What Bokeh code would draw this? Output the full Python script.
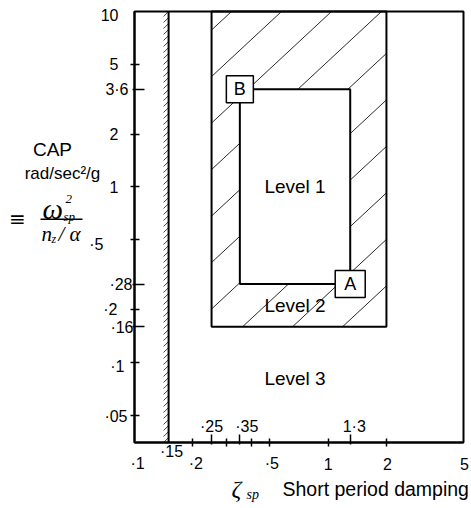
import math

from bokeh.plotting import figure
from bokeh.models import Range1d, FixedTicker, Label, CustomJSTickFormatter, BoxAnnotation
from bokeh.core.properties import value
from bokeh.embed import file_html
from bokeh.resources import INLINE

# Short-period flying-qualities boundaries (CAP vs damping ratio)
zeta_level3_min = 0.15
level1_zeta = [0.35, 1.3]
level1_cap = [0.28, 3.6]
level2_zeta = [0.25, 2.0]
level2_cap = [0.16, 10.0]

x_limits = [0.1, 5.0]
y_limits = [0.035, 10.0]

# tick positions (long ticks mark the boundary values)
x_ticks_long = [0.25, 0.35, 1.3]
x_ticks_short = [0.2, 0.3, 0.4, 0.5, 1.0, 2.0]
y_ticks_long = [3.6, 0.28, 0.16]
y_ticks_short = [5.0, 2.0, 1.0, 0.5, 0.2, 0.1, 0.05]

x_labels_below = {0.1: "·1", 0.15: "·15", 0.2: "·2", 0.5: "·5", 1.0: "1", 2.0: "2", 5.0: "5"}
x_labels_above = {0.25: "·25", 0.35: "·35", 1.3: "1·3"}
y_labels = {10.0: "10", 5.0: "5", 3.6: "3·6", 2.0: "2", 1.0: "1", 0.5: "·5",
            0.28: "·28", 0.2: "·2", 0.16: "·16", 0.1: "·1", 0.05: "·05"}

region_names = ["Level 1", "Level 2", "Level 3"]
corner_names = ["B", "A"]

# ---- layout / style ----
W, H = 471, 508
BOX_L, BOX_R, BOX_T, BOX_B = 134, 463, 11, 442   # chart box in pixels
SANS = "Liberation Sans"
SERIF = "Liberation Serif"
TICK_PX = 16
HATCH_STEP = 50      # px between hatch lines (horizontal)
HATCH_PHASE = 231    # px where one hatch line meets the top edge
HATCH_RISE = 0.93    # rise over run of the hatch lines on screen
TICKMARK_STEP = 6    # px between the small marks on the damping limit
TICKMARK_LEN = 5

# the plotting frame fills the whole page; the chart box sits inside it
px_dec_x = (BOX_R - BOX_L) / math.log10(x_limits[1] / x_limits[0])
px_dec_y = (BOX_B - BOX_T) / math.log10(y_limits[1] / y_limits[0])
x_view = (x_limits[0] * 10 ** (-BOX_L / px_dec_x), x_limits[1] * 10 ** ((W - BOX_R) / px_dec_x))
y_view = (y_limits[0] * 10 ** (-(H - BOX_B) / px_dec_y), y_limits[1] * 10 ** (BOX_T / px_dec_y))

# label nudges in pixels
y_label_gap = {10.0: 16, 5.0: 16, 3.6: 6, 2.0: 16, 1.0: 16, 0.5: 31,
               0.28: 2, 0.2: 17, 0.16: 1, 0.1: 10, 0.05: 7}
y_label_dy = {10.0: 3, 0.5: 5, 0.16: 1, 0.1: 4, 0.05: 1}
x_below_dx = {0.1: 3, 0.15: 3, 0.2: 3, 0.5: 2, 1.0: 0, 2.0: 1, 5.0: 1}
x_below_dy = {0.15: 12}
x_above_dx = {0.25: 0, 0.35: 7, 1.3: 4}

p = figure(width=W, height=H, x_axis_type="log", y_axis_type="log",
           x_range=Range1d(*x_view), y_range=Range1d(*y_view),
           output_backend="svg", toolbar_location=None,
           min_border_left=0, min_border_right=0, min_border_top=0, min_border_bottom=0)
p.title.visible = False
p.background_fill_color = "white"
p.border_fill_color = "white"
p.outline_line_color = None
p.grid.visible = False

blank = CustomJSTickFormatter(code='return ""')

xa = p.xaxis[0]
xa.ticker = FixedTicker(ticks=x_ticks_long, minor_ticks=x_ticks_short)
xa.fixed_location = y_limits[0]
xa.bounds = tuple(x_limits)
xa.major_tick_in, xa.major_tick_out = 8, 2
xa.minor_tick_in, xa.minor_tick_out = 4, 4
ya = p.yaxis[0]
ya.ticker = FixedTicker(ticks=y_ticks_long, minor_ticks=y_ticks_short)
ya.fixed_location = x_limits[0]
ya.bounds = tuple(y_limits)
ya.major_tick_in, ya.major_tick_out = 10, 2
ya.minor_tick_in, ya.minor_tick_out = 5, 4
for ax in (xa, ya):
    ax.formatter = blank
    ax.axis_line_width = 2
    ax.major_tick_line_width = 1.5
    ax.minor_tick_line_width = 1.5
    ax.major_label_standoff = 0


def hatch_lines(x0, x1, y0, y1):
    """Parallel hatch segments (fixed screen angle) clipped to a box given in data units."""
    u0, u1, v0, v1 = map(math.log10, (x0, x1, y0, y1))
    m = HATCH_RISE * px_dec_x / px_dec_y
    du = HATCH_STEP / px_dec_x
    uc = math.log10(x_limits[0]) + (HATCH_PHASE - BOX_L) / px_dec_x
    while uc > u0:
        uc -= du
    xs0, ys0, xs1, ys1 = [], [], [], []
    while uc - (v1 - v0) / m < u1:
        k = v1 - m * uc
        us, ue = max(u0, (v0 - k) / m), min(u1, uc)
        if us < ue:
            xs0.append(10 ** us); ys0.append(10 ** (m * us + k))
            xs1.append(10 ** ue); ys1.append(10 ** (m * ue + k))
        uc += du
    return xs0, ys0, xs1, ys1


# Level 2 band: hatching, then Level 1 box in white on top
hx0, hy0, hx1, hy1 = hatch_lines(level2_zeta[0], level2_zeta[1], level2_cap[0], level2_cap[1])
p.segment(x0=hx0, y0=hy0, x1=hx1, y1=hy1, line_color="#2a2a2a", line_width=1)
p.quad(left=level1_zeta[0], right=level1_zeta[1], bottom=level1_cap[0], top=level1_cap[1],
       fill_color="white", line_color="black", line_width=2)
p.quad(left=level2_zeta[0], right=level2_zeta[1], bottom=level2_cap[0], top=level2_cap[1],
       fill_color=None, line_color="black", line_width=2)

# Level 3 lower damping limit, marked with short strokes on its left side
dx_mark = 10 ** (-TICKMARK_LEN / px_dec_x)
dy_mark = 10 ** (TICKMARK_LEN / px_dec_y)
step_mark = 10 ** (TICKMARK_STEP / px_dec_y)
mk_y = []
yy = y_limits[0] * dy_mark
while yy <= y_limits[1]:
    mk_y.append(yy)
    yy *= step_mark
p.segment(x0=[zeta_level3_min * dx_mark] * len(mk_y), y0=[v / dy_mark for v in mk_y],
          x1=[zeta_level3_min] * len(mk_y), y1=mk_y, line_color="#444444", line_width=1)
p.segment(x0=[zeta_level3_min], y0=[y_limits[0]], x1=[zeta_level3_min], y1=[y_limits[1]],
          line_color="black", line_width=2)

# chart box
p.quad(left=x_limits[0], right=x_limits[1], bottom=y_limits[0], top=y_limits[1],
       fill_color=None, line_color="black", line_width=2)

# corner markers B (0.35, 3.6) and A (1.3, 0.28)
cx = [level1_zeta[0], level1_zeta[1]]
cy = [level1_cap[1], level1_cap[0]]
p.rect(x=cx, y=cy, width=[27, 30], height=[27, 27], width_units="screen", height_units="screen",
       fill_color="white", line_color="black", line_width=1.5)
p.text(x=cx, y=cy, text=corner_names, text_align="center", text_baseline="middle",
       text_font=value(SANS), text_font_size="18px", text_color="black")

# region names
mid_x = (level1_zeta[0] * level1_zeta[1]) ** 0.5
ry = [(level1_cap[0] * level1_cap[1]) ** 0.5,
      (level2_cap[0] * level1_cap[0]) ** 0.5,
      (level2_cap[0] * y_limits[0]) ** 0.5 * 1.08]
p.text(x=[mid_x] * 3, y=ry, text=region_names, text_align="center", text_baseline="middle",
       text_font=value(SANS), text_font_size="19px", text_color="black")

# tick labels
for v, t in y_labels.items():
    p.add_layout(Label(x=x_limits[0], y=v, x_offset=-y_label_gap[v], y_offset=-y_label_dy.get(v, 0),
                       text=t, text_align="right", text_baseline="middle",
                       text_font=SANS, text_font_size=f"{TICK_PX}px", text_color="black"))
for v, t in x_labels_below.items():
    p.add_layout(Label(x=v, y=y_limits[0], x_offset=x_below_dx[v], y_offset=-(21 - x_below_dy.get(v, 0)),
                       text=t, text_align="center", text_baseline="middle",
                       text_font=SANS, text_font_size=f"{TICK_PX}px", text_color="black"))
for v, t in x_labels_above.items():
    p.add_layout(Label(x=v, y=y_limits[0], x_offset=x_above_dx[v], y_offset=16,
                       text=t, text_align="center", text_baseline="middle",
                       text_font=SANS, text_font_size=f"{TICK_PX}px", text_color="black"))


def page_text(txt, px, py, size, font=SANS, style="normal", align="left"):
    p.add_layout(Label(x=px, y=H - py, x_units="screen", y_units="screen",
                       text=txt, text_font=font, text_font_size=f"{size}px", text_font_style=style,
                       text_align=align, text_baseline="middle", text_color="black"))


# y-axis title: CAP = omega_sp^2 / (n_z / alpha)
page_text("CAP", 52, 149, 19, align="center")
page_text("rad/sec²/g", 62, 173, 17, align="center")
page_text("≡", 17, 218, 20, font="DejaVu Sans", align="center")
page_text("ω", 42, 208, 29, font=SERIF, style="italic")
page_text("2", 65, 198, 13, font=SERIF, style="italic")
page_text("sp", 63, 216, 13, font=SERIF, style="italic")
page_text("n", 41, 233, 21, font=SERIF, style="italic")
page_text("z", 51, 238, 12, font=SERIF, style="italic")
page_text("/ α", 58, 233, 21, font=SERIF, style="italic")
p.add_layout(BoxAnnotation(left=40, right=82, bottom=H - 219.5, top=H - 218,
                           left_units="screen", right_units="screen",
                           bottom_units="screen", top_units="screen",
                           fill_color="black", fill_alpha=1, line_color=None))

# x-axis title
page_text("ζ", 231, 488, 24, font=SERIF, style="italic")
page_text("sp", 246, 494, 14, font=SERIF, style="italic")
page_text("Short period damping", 282, 488, 19.5)

open("out.html", "w").write(file_html(p, INLINE))
